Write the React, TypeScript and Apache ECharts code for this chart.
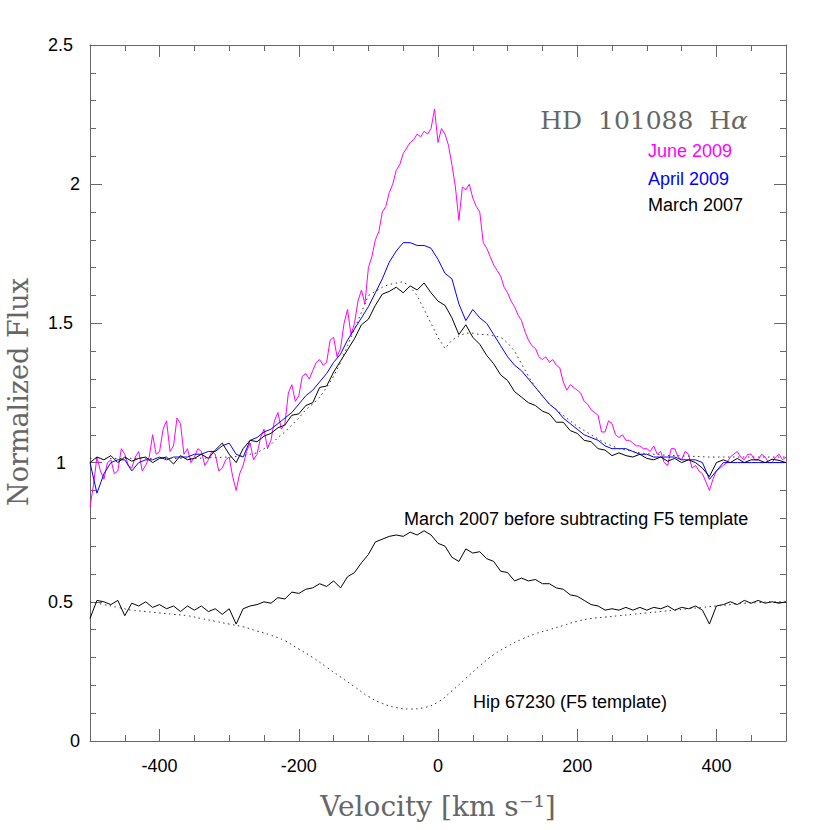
import React, { useEffect, useRef } from 'react';
import * as echarts from 'echarts';

// velocity grids (km/s)
const vel10 = [
  -500, -490, -480, -470, -460, -450, -440, -430, -420, -410,
  -400, -390, -380, -370, -360, -350, -340, -330, -320, -310,
  -300, -290, -280, -270, -260, -250, -240, -230, -220, -210,
  -200, -190, -180, -170, -160, -150, -140, -130, -120, -110,
  -100, -90, -80, -70, -60, -50, -40, -30, -20, -10,
  0, 10, 20, 30, 40, 50, 60, 70, 80, 90,
  100, 110, 120, 130, 140, 150, 160, 170, 180, 190,
  200, 210, 220, 230, 240, 250, 260, 270, 280, 290,
  300, 310, 320, 330, 340, 350, 360, 370, 380, 390,
  400, 410, 420, 430, 440, 450, 460, 470, 480, 490,
  500,
];

const vel5 = [
  -500, -495, -490, -485, -480, -475, -470, -465, -460, -455,
  -450, -445, -440, -435, -430, -425, -420, -415, -410, -405,
  -400, -395, -390, -385, -380, -375, -370, -365, -360, -355,
  -350, -345, -340, -335, -330, -325, -320, -315, -310, -305,
  -300, -295, -290, -285, -280, -275, -270, -265, -260, -255,
  -250, -245, -240, -235, -230, -225, -220, -215, -210, -205,
  -200, -195, -190, -185, -180, -175, -170, -165, -160, -155,
  -150, -145, -140, -135, -130, -125, -120, -115, -110, -105,
  -100, -95, -90, -85, -80, -75, -70, -65, -60, -55,
  -50, -45, -40, -35, -30, -25, -20, -15, -10, -5,
  0, 5, 10, 15, 20, 25, 30, 35, 40, 45,
  50, 55, 60, 65, 70, 75, 80, 85, 90, 95,
  100, 105, 110, 115, 120, 125, 130, 135, 140, 145,
  150, 155, 160, 165, 170, 175, 180, 185, 190, 195,
  200, 205, 210, 215, 220, 225, 230, 235, 240, 245,
  250, 255, 260, 265, 270, 275, 280, 285, 290, 295,
  300, 305, 310, 315, 320, 325, 330, 335, 340, 345,
  350, 355, 360, 365, 370, 375, 380, 385, 390, 395,
  400, 405, 410, 415, 420, 425, 430, 435, 440, 445,
  450, 455, 460, 465, 470, 475, 480, 485, 490, 495,
  500,
];

const vel20 = [
  -500, -480, -460, -440, -420, -400, -380, -360, -340, -320,
  -300, -280, -260, -240, -220, -200, -180, -160, -140, -120,
  -100, -80, -60, -40, -20, 0, 20, 40, 60, 80,
  100, 120, 140, 160, 180, 200, 220, 240, 260, 280,
  300, 320, 340, 360, 380, 400, 420, 440, 460, 480,
  500,
];

// June 2009 (magenta), sampled on vel5
const june2009 = [
  0.84, 0.92, 1.02, 0.97, 0.94, 1.00, 1.01, 0.96, 0.97, 1.05,
  1.03, 0.99, 0.98, 1.02, 1.04, 0.97, 0.99, 1.02, 1.10, 1.03,
  1.04, 1.12, 1.15, 1.04, 1.06, 1.16, 1.14, 1.03, 1.05, 1.00,
  1.02, 1.05, 1.04, 0.99, 1.01, 1.04, 1.03, 0.97, 0.98, 1.01,
  1.02, 0.95, 0.90, 0.96, 0.99, 1.04, 1.07, 1.01, 1.03, 1.09,
  1.12, 1.05, 1.08, 1.15, 1.18, 1.12, 1.14, 1.25, 1.28, 1.22,
  1.24, 1.31, 1.32, 1.30, 1.33, 1.36, 1.37, 1.35, 1.36, 1.44,
  1.45, 1.38, 1.41, 1.50, 1.55, 1.46, 1.50, 1.58, 1.62, 1.57,
  1.70, 1.74, 1.80, 1.83, 1.90, 1.92, 1.97, 2.00, 2.05, 2.07,
  2.11, 2.13, 2.15, 2.16, 2.18, 2.17, 2.19, 2.18, 2.20, 2.27,
  2.15, 2.20, 2.18, 2.14, 2.07, 1.99, 1.87, 1.99, 1.98, 2.00,
  1.95, 1.92, 1.90, 1.79, 1.77, 1.74, 1.71, 1.69, 1.67, 1.63,
  1.61, 1.58, 1.56, 1.53, 1.51, 1.47, 1.44, 1.42, 1.41, 1.38,
  1.37, 1.38, 1.36, 1.37, 1.35, 1.34, 1.29, 1.26, 1.28, 1.27,
  1.26, 1.25, 1.22, 1.21, 1.19, 1.18, 1.17, 1.11, 1.11, 1.15,
  1.14, 1.10, 1.09, 1.10, 1.08, 1.08, 1.07, 1.06, 1.06, 1.05,
  1.05, 1.04, 1.06, 1.03, 1.04, 1.00, 0.99, 1.05, 1.05, 1.02,
  1.01, 1.04, 1.03, 0.98, 0.99, 0.97, 0.96, 0.93, 0.90, 0.94,
  0.97, 0.98, 0.99, 1.00, 1.02, 1.03, 1.04, 1.02, 1.01, 1.03,
  1.03, 1.01, 1.01, 1.03, 1.02, 1.00, 1.00, 1.02, 1.03, 1.01,
  1.02,
];

// April 2009 (blue), sampled on vel10
const april2009 = [
  1.00, 0.89, 0.96, 1.00, 1.01, 1.01, 0.97, 1.00, 1.01, 1.01,
  1.02, 1.01, 1.02, 1.02, 1.02, 1.03, 1.03, 1.04, 1.04, 1.06,
  1.07, 1.03, 1.02, 1.08, 1.09, 1.11, 1.12, 1.14, 1.16, 1.18,
  1.21, 1.24, 1.26, 1.29, 1.32, 1.36, 1.39, 1.44, 1.48, 1.52,
  1.56, 1.61, 1.66, 1.72, 1.76, 1.79, 1.79, 1.78, 1.78, 1.77,
  1.73, 1.68, 1.66, 1.57, 1.51, 1.55, 1.52, 1.50, 1.46, 1.42,
  1.38, 1.35, 1.33, 1.30, 1.27, 1.24, 1.21, 1.19, 1.16, 1.14,
  1.12, 1.10, 1.09, 1.08, 1.06, 1.05, 1.05, 1.05, 1.04, 1.03,
  1.03, 1.02, 1.02, 1.02, 1.02, 1.01, 1.01, 1.01, 1.00, 0.94,
  0.97, 1.00, 1.00, 1.00, 1.00, 1.00, 1.00, 1.00, 1.00, 1.00,
  1.00,
];

// March 2007 (black, after subtracting F5 template), sampled on vel10
const march2007 = [
  1.00, 1.02, 1.01, 1.025, 1.00, 1.02, 1.005, 1.015, 1.02, 1.00,
  1.015, 1.02, 0.995, 1.025, 1.01, 1.015, 1.03, 1.015, 1.045, 1.07,
  1.03, 1.00, 1.05, 1.08, 1.075, 1.095, 1.105, 1.125, 1.135, 1.17,
  1.175, 1.205, 1.215, 1.27, 1.275, 1.325, 1.365, 1.405, 1.445, 1.495,
  1.515, 1.565, 1.605, 1.615, 1.63, 1.61, 1.635, 1.62, 1.645, 1.61,
  1.58, 1.565, 1.52, 1.46, 1.495, 1.45, 1.425, 1.385, 1.355, 1.315,
  1.295, 1.255, 1.235, 1.215, 1.205, 1.185, 1.175, 1.145, 1.145, 1.115,
  1.105, 1.08, 1.075, 1.05, 1.045, 1.025, 1.035, 1.025, 1.02, 1.03,
  1.015, 1.01, 1.02, 1.005, 1.015, 1.00, 1.01, 1.00, 0.98, 0.95,
  1.00, 1.01, 1.00, 1.015, 1.00, 1.01, 1.01, 1.00, 1.012, 1.008,
  1.00,
];

// dotted profile over the upper spectra, sampled on vel10
const modelProfile = [
  1.015, 1.015, 1.015, 1.015, 1.015, 1.015, 1.015, 1.015, 1.015, 1.015,
  1.015, 1.015, 1.015, 1.015, 1.015, 1.015, 1.016, 1.017, 1.018, 1.019,
  1.02, 1.022, 1.025, 1.03, 1.035, 1.05, 1.065, 1.09, 1.11, 1.135,
  1.16, 1.19, 1.21, 1.235, 1.27, 1.31, 1.36, 1.42, 1.48, 1.54,
  1.60, 1.615, 1.63, 1.64, 1.645, 1.65, 1.63, 1.60, 1.55, 1.50,
  1.45, 1.41, 1.44, 1.455, 1.465, 1.465, 1.46, 1.46, 1.455, 1.45,
  1.43, 1.40, 1.355, 1.31, 1.27, 1.24, 1.21, 1.19, 1.17, 1.15,
  1.13, 1.115, 1.10, 1.085, 1.07, 1.06, 1.05, 1.045, 1.04, 1.035,
  1.032, 1.03, 1.028, 1.026, 1.025, 1.024, 1.023, 1.022, 1.021, 1.02,
  1.02, 1.02, 1.02, 1.02, 1.02, 1.02, 1.02, 1.02, 1.02, 1.02,
  1.02,
];

// March 2007 before subtracting the F5 template, sampled on vel10
const march2007Raw = [
  0.44, 0.505, 0.50, 0.49, 0.505, 0.45, 0.495, 0.485, 0.50, 0.48,
  0.49, 0.475, 0.485, 0.465, 0.485, 0.47, 0.485, 0.465, 0.475, 0.455,
  0.475, 0.42, 0.475, 0.485, 0.49, 0.50, 0.495, 0.515, 0.51, 0.535,
  0.53, 0.545, 0.55, 0.565, 0.555, 0.575, 0.55, 0.59, 0.605, 0.64,
  0.67, 0.715, 0.725, 0.735, 0.74, 0.735, 0.75, 0.74, 0.755, 0.74,
  0.71, 0.70, 0.66, 0.645, 0.69, 0.675, 0.68, 0.655, 0.645, 0.61,
  0.605, 0.575, 0.585, 0.575, 0.58, 0.565, 0.565, 0.55, 0.545, 0.525,
  0.52, 0.505, 0.49, 0.485, 0.47, 0.475, 0.47, 0.48, 0.47, 0.48,
  0.47, 0.48, 0.475, 0.485, 0.47, 0.48, 0.475, 0.485, 0.47, 0.42,
  0.485, 0.49, 0.50, 0.49, 0.505, 0.495, 0.505, 0.495, 0.50, 0.495,
  0.50,
];

// Hip 67230 (F5 template), sampled on vel20
const hip67230 = [
  0.50, 0.49, 0.48, 0.47, 0.465, 0.46, 0.455, 0.45, 0.44, 0.43,
  0.42, 0.41, 0.395, 0.38, 0.36, 0.33, 0.30, 0.265, 0.23, 0.195,
  0.16, 0.135, 0.12, 0.115, 0.12, 0.14, 0.18, 0.225, 0.27, 0.31,
  0.34, 0.365, 0.385, 0.40, 0.415, 0.43, 0.44, 0.445, 0.45, 0.455,
  0.46, 0.465, 0.47, 0.475, 0.48, 0.485, 0.49, 0.495, 0.497, 0.50,
  0.50,
];

const xMajorTicks = [-400, -200, 0, 200, 400];
const xMinorTicks = [-450, -350, -300, -250, -150, -100, -50, 50, 100, 150, 250, 300, 350, 450];

const SANS = '"Liberation Sans", Arial, Helvetica, sans-serif';
const SERIF = '"DejaVu Serif", serif';
const FRAME = '#666';

const pairs = (xs: number[], ys: number[]) => xs.map((x, i) => [x, ys[i]]);

export default function App() {
  const ref = useRef<HTMLDivElement>(null);

  useEffect(() => {
    if (!ref.current) return;
    const chart = echarts.init(ref.current, undefined, { renderer: 'svg' });

    const xBase = {
      type: 'value',
      min: -500,
      max: 500,
      splitLine: { show: false },
    };
    const tickLine = { color: FRAME, width: 1 };
    const frameLine = { show: true, onZero: false, lineStyle: { color: FRAME, width: 1 } };
    const noLine = { show: false, onZero: false };

    const option: any = {
      animation: false,
      backgroundColor: '#fff',
      grid: { left: 90, top: 45, width: 696, height: 696, containLabel: false },
      xAxis: [
        {
          ...xBase,
          position: 'bottom',
          axisLine: frameLine,
          axisTick: { show: true, inside: true, length: 12, customValues: xMajorTicks, lineStyle: tickLine },
          axisLabel: {
            show: true,
            customValues: xMajorTicks,
            margin: 16,
            fontSize: 18,
            fontFamily: SANS,
            color: '#000',
          },
        },
        {
          ...xBase,
          position: 'bottom',
          axisLine: noLine,
          axisTick: { show: true, inside: true, length: 6, customValues: xMinorTicks, lineStyle: tickLine },
          axisLabel: { show: false },
        },
        {
          ...xBase,
          position: 'top',
          axisLine: frameLine,
          axisTick: { show: true, inside: true, length: 12, customValues: xMajorTicks, lineStyle: tickLine },
          axisLabel: { show: false },
        },
        {
          ...xBase,
          position: 'top',
          axisLine: noLine,
          axisTick: { show: true, inside: true, length: 6, customValues: xMinorTicks, lineStyle: tickLine },
          axisLabel: { show: false },
        },
      ],
      yAxis: [
        {
          type: 'value',
          min: 0,
          max: 2.5,
          interval: 0.5,
          position: 'left',
          splitLine: { show: false },
          axisLine: frameLine,
          axisTick: { show: true, inside: true, length: 12, lineStyle: tickLine },
          minorTick: { show: true, splitNumber: 5, length: 6, lineStyle: tickLine },
          axisLabel: {
            show: true,
            margin: 10,
            formatter: (v: number) => {
              const s = String(Math.round(v * 10) / 10);
              if (s.indexOf('.') >= 0) return `{d|${s}}`;
              if (s === '1') return `{o|${s}}`;
              return `{i|${s}}`;
            },
            rich: {
              d: { fontSize: 18, fontFamily: SANS, color: '#000', padding: [0, 7, 0, 0] },
              i: { fontSize: 18, fontFamily: SANS, color: '#000' },
              o: { fontSize: 18, fontFamily: SANS, color: '#000', padding: [0, 14, 0, 0] },
            },
          },
        },
        {
          type: 'value',
          min: 0,
          max: 2.5,
          interval: 0.5,
          position: 'right',
          splitLine: { show: false },
          axisLine: frameLine,
          axisTick: { show: true, inside: true, length: 12, lineStyle: tickLine },
          minorTick: { show: true, splitNumber: 5, length: 6, lineStyle: tickLine },
          axisLabel: { show: false },
        },
      ],
      series: [
        {
          name: 'June 2009',
          type: 'line',
          data: pairs(vel5, june2009),
          showSymbol: false,
          lineStyle: { color: '#ff00ff', width: 1 },
          z: 2,
        },
        {
          name: 'April 2009',
          type: 'line',
          data: pairs(vel10, april2009),
          showSymbol: false,
          lineStyle: { color: '#0000ff', width: 1 },
          z: 3,
        },
        {
          name: 'March 2007',
          type: 'line',
          data: pairs(vel10, march2007),
          showSymbol: false,
          lineStyle: { color: '#000', width: 1 },
          z: 4,
        },
        {
          name: 'Profile',
          type: 'line',
          data: pairs(vel10, modelProfile),
          showSymbol: false,
          lineStyle: { color: '#333', width: 1, type: [1.5, 3.5] },
          z: 4,
        },
        {
          name: 'March 2007 before subtracting F5 template',
          type: 'line',
          data: pairs(vel10, march2007Raw),
          showSymbol: false,
          lineStyle: { color: '#000', width: 1 },
          z: 4,
        },
        {
          name: 'Hip 67230 (F5 template)',
          type: 'line',
          data: pairs(vel20, hip67230),
          smooth: true,
          showSymbol: false,
          lineStyle: { color: '#333', width: 1, type: [1.5, 3.5] },
          z: 4,
        },
      ],
      graphic: [
        {
          type: 'text',
          x: 748,
          y: 120,
          style: {
            text: 'HD\u00a0\u00a0101088\u00a0\u00a0H{a|α}',
            fill: '#666',
            font: `25px ${SERIF}`,
            textAlign: 'right',
            textVerticalAlign: 'middle',
            rich: { a: { fontStyle: 'italic', fontSize: 25, fontFamily: SERIF, fill: '#666' } },
          },
        },
        {
          type: 'text',
          x: 648,
          y: 151,
          style: { text: 'June 2009', fill: '#ff00ff', font: `18px ${SANS}`, textAlign: 'left', textVerticalAlign: 'middle' },
        },
        {
          type: 'text',
          x: 648,
          y: 179,
          style: { text: 'April 2009', fill: '#0000ff', font: `18px ${SANS}`, textAlign: 'left', textVerticalAlign: 'middle' },
        },
        {
          type: 'text',
          x: 648,
          y: 205,
          style: { text: 'March 2007', fill: '#000', font: `18px ${SANS}`, textAlign: 'left', textVerticalAlign: 'middle' },
        },
        {
          type: 'text',
          x: 404,
          y: 519,
          style: {
            text: 'March 2007 before subtracting F5 template',
            fill: '#000',
            font: `18px ${SANS}`,
            textAlign: 'left',
            textVerticalAlign: 'middle',
          },
        },
        {
          type: 'text',
          x: 473,
          y: 702,
          style: { text: 'Hip 67230 (F5 template)', fill: '#000', font: `18px ${SANS}`, textAlign: 'left', textVerticalAlign: 'middle' },
        },
        {
          type: 'text',
          x: 18,
          y: 392,
          rotation: Math.PI / 2,
          style: { text: 'Normalized Flux', fill: '#666', font: `27px ${SERIF}`, textAlign: 'center', textVerticalAlign: 'middle' },
        },
        {
          type: 'text',
          x: 438,
          y: 806,
          style: { text: 'Velocity [km s⁻¹]', fill: '#666', font: `28px ${SERIF}`, textAlign: 'center', textVerticalAlign: 'middle' },
        },
      ],
    };

    chart.setOption(option);
    return () => chart.dispose();
  }, []);

  return (
    <div
      ref={ref}
      style={{ position: 'absolute', left: 0, top: 0, width: 830, height: 830, background: '#fff' }}
    />
  );
}
